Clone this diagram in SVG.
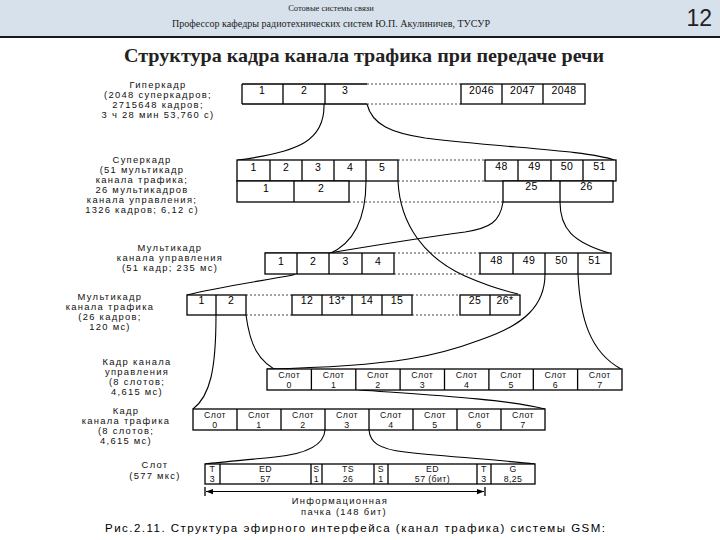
<svg xmlns="http://www.w3.org/2000/svg" width="720" height="540" viewBox="0 0 720 540">
<defs>
<style>
.bx{fill:#fff;stroke:#000;stroke-width:1.3}
.ln{fill:none;stroke:#000;stroke-width:1.3}
.dt{fill:none;stroke:#333;stroke-width:.9;stroke-dasharray:2 2}
.cn{fill:none;stroke:#000;stroke-width:1.1}
.n{font-family:"Liberation Sans",Arial,sans-serif;font-size:10.5px;text-anchor:middle;fill:#000;letter-spacing:.4px}
.s{font-family:"Liberation Sans",Arial,sans-serif;font-size:8.8px;text-anchor:middle;fill:#111;letter-spacing:.4px}
.l{font-family:"Liberation Sans",Arial,sans-serif;font-size:9.4px;text-anchor:middle;fill:#111;letter-spacing:1.3px}
.hd{font-family:"Liberation Serif","Times New Roman",serif;text-anchor:middle;fill:#222}
</style>
<marker id="ah" viewBox="0 0 8 8" refX="8" refY="4" markerWidth="7" markerHeight="7" orient="auto-start-reverse" markerUnits="userSpaceOnUse">
<path d="M0,1 L8,4 L0,7 z" fill="#000"/>
</marker>
</defs>

<g id="header">
<rect x="0" y="0" width="720" height="37" fill="#d6e1ec"/>
<line x1="0" y1="37" x2="720" y2="37" stroke="#1a1a1a" stroke-width="2"/>
<text class="hd" x="331" y="11" font-size="8.5">Сотовые системы связи</text>
<text class="hd" x="331" y="27" font-size="9.5" textLength="318" lengthAdjust="spacingAndGlyphs">Профессор кафедры радиотехнических систем Ю.П. Акулиничев, ТУСУР</text>
<text x="712" y="26" font-family="'Liberation Sans',Arial,sans-serif" font-size="23" text-anchor="end" fill="#222">12</text>
<text class="hd" x="364" y="62" font-size="19" font-weight="bold" fill="#000" textLength="480" lengthAdjust="spacingAndGlyphs">Структура кадра канала трафика при передаче речи</text>
</g>

<g id="connectors">
<path class="cn" d="M324,104 C325,140 300,152 238,160"/>
<path class="cn" d="M367,104 C372,125 392,133 425,138 C505,148 585,150 614,160"/>
<path class="cn" d="M366,181 C366,222 352,244 329,254 L293,275 C255,282 215,288 187,295"/>
<path class="cn" d="M398,181 C400,225 425,258 465,276 C490,287 505,291 518,294"/>
<path class="cn" d="M503,202 C500,222 490,228 465,232 C420,238 365,247 329,253 L265,253"/>
<path class="cn" d="M560,202 C560,228 572,242 609,253"/>
<path class="cn" d="M216,315 C216,370 210,396 193,409"/>
<path class="cn" d="M246,315 C250,345 258,362 280,372 L360,390 C430,395 505,399 545,409"/>
<path class="cn" d="M545,274 C545,305 525,325 480,340 C440,355 400,366 267,369"/>
<path class="cn" d="M578,274 C580,318 590,352 621,369"/>
<path class="cn" d="M325,430 C324,446 305,454 275,457 C245,460 222,462 205,464"/>
<path class="cn" d="M369,430 C370,442 378,449 405,452 C450,457 500,460 535,464"/>
</g>

<g id="hyperframe">
<text class="l" x="158" y="87.5">Гиперкадр</text>
<text class="l" x="158" y="97.5">(2048 суперкадров;</text>
<text class="l" x="158" y="107.5">2715648 кадров;</text>
<text class="l" x="158" y="117.5">3 ч 28 мин 53,760 с)</text>
<path class="ln" d="M242,84 H367 M242,104 H367 M242,84 V104 M283,84 V104 M325,84 V104"/>
<path class="dt" d="M367,84 H461 M367,104 H461"/>
<rect class="bx" x="461" y="84" width="124" height="20"/>
<path class="ln" d="M502,84 V104 M543,84 V104"/>
<text class="n" x="262" y="94">1</text><text class="n" x="304" y="94">2</text><text class="n" x="345" y="94">3</text>
<text class="n" x="481.5" y="94">2046</text><text class="n" x="522.5" y="94">2047</text><text class="n" x="564" y="94">2048</text>
</g>

<g id="superframe">
<text class="l" x="142" y="163">Суперкадр</text>
<text class="l" x="142" y="173">(51 мультикадр</text>
<text class="l" x="142" y="183">канала трафика;</text>
<text class="l" x="142" y="193">26 мультикадров</text>
<text class="l" x="142" y="203">канала управления;</text>
<text class="l" x="142" y="213">1326 кадров; 6,12 с)</text>
<rect class="bx" x="237" y="160" width="161" height="21"/>
<path class="ln" d="M270,160 V181 M302,160 V181 M334,160 V181 M366,160 V181"/>
<rect class="bx" x="237" y="181" width="112" height="21"/>
<path class="ln" d="M294,181 V202"/>
<path class="dt" d="M398,160 H485 M398,181 H485 M349,202 H503"/>
<rect class="bx" x="485" y="160" width="131" height="21"/>
<path class="ln" d="M518,160 V181 M551,160 V181 M583,160 V181"/>
<rect class="bx" x="503" y="181" width="110" height="21"/>
<path class="ln" d="M560,181 V202"/>
<text class="n" x="253.5" y="171">1</text><text class="n" x="286" y="171">2</text><text class="n" x="318" y="171">3</text><text class="n" x="350" y="171">4</text><text class="n" x="382" y="171">5</text>
<text class="n" x="266" y="192">1</text><text class="n" x="321" y="192">2</text>
<text class="n" x="501.5" y="170">48</text><text class="n" x="534.5" y="170">49</text><text class="n" x="567" y="170">50</text><text class="n" x="599.5" y="170">51</text>
<text class="n" x="531.5" y="190">25</text><text class="n" x="586.5" y="190">26</text>
</g>

<g id="control-multiframe">
<text class="l" x="170" y="251">Мультикадр</text>
<text class="l" x="170" y="261">канала управления</text>
<text class="l" x="170" y="271">(51 кадр; 235 мс)</text>
<rect class="bx" x="265" y="253" width="129" height="21"/>
<path class="ln" d="M297,253 V274 M329,253 V274 M362,253 V274"/>
<path class="dt" d="M394,253 H480 M394,274 H480"/>
<rect class="bx" x="480" y="253" width="131" height="21"/>
<path class="ln" d="M513,253 V274 M545,253 V274 M578,253 V274"/>
<text class="n" x="281" y="265">1</text><text class="n" x="313" y="265">2</text><text class="n" x="345.5" y="265">3</text><text class="n" x="378" y="265">4</text>
<text class="n" x="496.5" y="264">48</text><text class="n" x="529" y="264">49</text><text class="n" x="561.5" y="264">50</text><text class="n" x="594.5" y="264">51</text>
</g>

<g id="traffic-multiframe">
<text class="l" x="110" y="300">Мультикадр</text>
<text class="l" x="110" y="310">канала трафика</text>
<text class="l" x="110" y="320">(26 кадров;</text>
<text class="l" x="110" y="330">120 мс)</text>
<rect class="bx" x="187" y="295" width="59" height="20"/>
<path class="ln" d="M216,295 V315"/>
<path class="dt" d="M246,295 H292 M246,315 H292"/>
<rect class="bx" x="292" y="295" width="120" height="20"/>
<path class="ln" d="M322,295 V315 M352,295 V315 M382,295 V315"/>
<path class="dt" d="M412,295 H460 M412,315 H460"/>
<rect class="bx" x="460" y="295" width="60" height="20"/>
<path class="ln" d="M490,295 V315"/>
<text class="n" x="201.5" y="304">1</text><text class="n" x="231" y="304">2</text>
<text class="n" x="307" y="304">12</text><text class="n" x="337" y="304">13*</text><text class="n" x="367" y="304">14</text><text class="n" x="397" y="304">15</text>
<text class="n" x="475" y="304">25</text><text class="n" x="505" y="304">26*</text>
</g>

<g id="control-frame">
<text class="l" x="137" y="365">Кадр канала</text>
<text class="l" x="137" y="375">управления</text>
<text class="l" x="137" y="385">(8 слотов;</text>
<text class="l" x="137" y="395">4,615 мс)</text>
<rect class="bx" x="267" y="369" width="355" height="21"/>
<path class="ln" d="M311.4,369 V390 M355.8,369 V390 M400.1,369 V390 M444.5,369 V390 M488.9,369 V390 M533.3,369 V390 M577.6,369 V390"/>
<g class="s">
<text x="289.2" y="377.5">Слот</text><text x="289.2" y="387.5">0</text>
<text x="333.6" y="377.5">Слот</text><text x="333.6" y="387.5">1</text>
<text x="378" y="377.5">Слот</text><text x="378" y="387.5">2</text>
<text x="422.3" y="377.5">Слот</text><text x="422.3" y="387.5">3</text>
<text x="466.7" y="377.5">Слот</text><text x="466.7" y="387.5">4</text>
<text x="511.1" y="377.5">Слот</text><text x="511.1" y="387.5">5</text>
<text x="555.5" y="377.5">Слот</text><text x="555.5" y="387.5">6</text>
<text x="599.8" y="377.5">Слот</text><text x="599.8" y="387.5">7</text>
</g>
</g>

<g id="traffic-frame">
<text class="l" x="126" y="414">Кадр</text>
<text class="l" x="126" y="424">канала трафика</text>
<text class="l" x="126" y="434">(8 слотов;</text>
<text class="l" x="126" y="444">4,615 мс)</text>
<rect class="bx" x="193" y="409" width="352" height="21"/>
<path class="ln" d="M237,409 V430 M281,409 V430 M325,409 V430 M369,409 V430 M413,409 V430 M457,409 V430 M501,409 V430"/>
<g class="s">
<text x="215" y="417.5">Слот</text><text x="215" y="427.5">0</text>
<text x="259" y="417.5">Слот</text><text x="259" y="427.5">1</text>
<text x="303" y="417.5">Слот</text><text x="303" y="427.5">2</text>
<text x="347" y="417.5">Слот</text><text x="347" y="427.5">3</text>
<text x="391" y="417.5">Слот</text><text x="391" y="427.5">4</text>
<text x="435" y="417.5">Слот</text><text x="435" y="427.5">5</text>
<text x="479" y="417.5">Слот</text><text x="479" y="427.5">6</text>
<text x="523" y="417.5">Слот</text><text x="523" y="427.5">7</text>
</g>
</g>

<g id="slot">
<text class="l" x="155" y="468">Слот</text>
<text class="l" x="155" y="479">(577 мкс)</text>
<rect class="bx" x="205" y="464" width="330" height="20"/>
<path class="ln" d="M220,464 V484 M311,464 V484 M322,464 V484 M374,464 V484 M388,464 V484 M477,464 V484 M491,464 V484"/>
<g class="s">
<text x="212.5" y="472">T</text><text x="212.5" y="481.5">3</text>
<text x="265.5" y="472">ED</text><text x="265.5" y="481.5">57</text>
<text x="316.5" y="472">S</text><text x="316.5" y="481.5">1</text>
<text x="348" y="472">TS</text><text x="348" y="481.5">26</text>
<text x="381" y="472">S</text><text x="381" y="481.5">1</text>
<text x="432.5" y="472">ED</text><text x="432.5" y="481.5">57 (бит)</text>
<text x="484" y="472">T</text><text x="484" y="481.5">3</text>
<text x="513" y="472">G</text><text x="513" y="481.5">8,25</text>
</g>
<path class="ln" d="M205,487 V496 M485,487 V496"/>
<line x1="206" y1="491.5" x2="484" y2="491.5" stroke="#000" stroke-width="1" marker-start="url(#ah)" marker-end="url(#ah)"/>
<text class="l" x="340" y="504" font-size="10">Информационная</text>
<text class="l" x="344" y="515" font-size="10">пачка (148 бит)</text>
</g>

<text x="355" y="532" font-family="'Liberation Sans',Arial,sans-serif" font-size="11.5" text-anchor="middle" fill="#000" textLength="500" lengthAdjust="spacing">Рис.2.11. Структура эфирного интерфейса (канал трафика) системы GSM:</text>
</svg>
